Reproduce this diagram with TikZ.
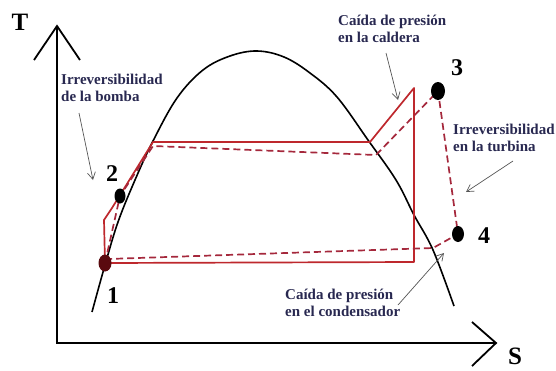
\documentclass[tikz,border=0pt]{standalone}
\usepackage{fontspec}
\setmainfont{Liberation Serif}
\usetikzlibrary{arrows.meta,shapes.geometric}
\definecolor{cycred}{RGB}{190,40,45}
\definecolor{dashred}{RGB}{165,40,60}
\definecolor{note}{RGB}{40,40,80}
\definecolor{pointer}{RGB}{85,85,85}
\definecolor{pointone}{RGB}{90,10,15}
\tikzset{
  axis/.style={line width=1.8pt, black},
  axhead/.style={line width=1.8pt, black},
  dome/.style={line width=1.6pt, black},
  real/.style={line width=1.7pt, cycred, line join=round},
  irrev/.style={line width=1.7pt, dashred, dash pattern=on 7pt off 4pt},
  pt/.style={fill=black, ellipse, inner sep=0pt},
  numlabel/.style={font=\fontsize{24}{26}\selectfont\bfseries, inner sep=0pt},
  axlabel/.style={font=\fontsize{25}{27}\selectfont\bfseries, inner sep=0pt},
  notetext/.style={font=\fontsize{15}{16.5}\selectfont\bfseries, text=note, align=left, inner sep=0pt, anchor=north west},
  pointerarrow/.style={line width=0.7pt, pointer, -{Straight Barb[length=7pt,width=8pt]}}
}
\begin{document}
\begin{tikzpicture}[x=1pt,y=-1pt]
\useasboundingbox (0,0) rectangle (556,370);
% axes
\coordinate (origin) at (57,343);
\coordinate (ttip) at (57,26);
\coordinate (stip) at (496,343);
\coordinate (tl) at (34,60);
\coordinate (tr) at (80,60);
\coordinate (su) at (472,322);
\coordinate (sd) at (472,366);
\draw[axis] (ttip) -- (origin) -- (stip);
\draw[axhead] (tl) -- (ttip) -- (tr);
\draw[axhead] (su) -- (stip) -- (sd);
\node[axlabel] (T) at (20,22) {T};
\node[axlabel] (S) at (515,356) {S};
% dome
\draw[dome] plot[smooth, tension=0.6] coordinates {(92,312) (105,265) (118,222) (135,180) (153,141) (177,98) (203,70) (230,56) (257,51) (284,57) (310,73) (337,97) (368,140) (396,180) (414,215) (433,250) (454,306)};
% cycle points
\coordinate (p1) at (105,263);
\coordinate (p1a) at (104,220);
\coordinate (p1b) at (112,208);
\coordinate (p2c) at (120,196);
\coordinate (pa) at (153,142);
\coordinate (pad) at (153,146);
\coordinate (pb) at (370,142);
\coordinate (pbd) at (376,155);
\coordinate (p3s) at (414,88);
\coordinate (p3c) at (438,91);
\coordinate (p4c) at (458,234);
\coordinate (p4s) at (414,262);
\coordinate (kd) at (433,248);
\coordinate (p1d) at (108,259);
% solid cycle
\draw[real] (p1) -- (p1a) -- (p1b) -- (pa) -- (pb) -- (p3s) -- (p4s) -- (p1);
% dashed cycle
\draw[irrev] (p1) -- (p2c) -- (pad) -- (pbd) -- (p3c) -- (p4c) -- (kd) -- (p1d);
% state points
\node[pt, minimum width=13pt, minimum height=17pt, fill=pointone] (n1) at (p1) {};
\node[pt, minimum width=11pt, minimum height=15pt] (n2) at (p2c) {};
\node[pt, minimum width=14pt, minimum height=18pt] (n3) at (p3c) {};
\node[pt, minimum width=12pt, minimum height=16pt] (n4) at (p4c) {};
\node[numlabel] (l1) at (113,296) {1};
\node[numlabel] (l2) at (112,174) {2};
\node[numlabel] (l3) at (457,68) {3};
\node[numlabel] (l4) at (484,236) {4};
% notes
\node[notetext] (nb) at (61,74) {Irreversibilidad\\de la bomba};
\node[notetext] (nc) at (338,15) {Caída de presión\\en la caldera};
\node[notetext] (nt) at (453,124) {Irreversibilidad\\en la turbina};
\node[notetext] (nk) at (285,289) {Caída de presión\\en el condensador};
\coordinate (ab1) at (79,113);
\coordinate (ab2) at (93,180);
\coordinate (ac1) at (386,53);
\coordinate (ac2) at (398,100);
\coordinate (at1) at (513,161);
\coordinate (at2) at (466,192);
\coordinate (ak1) at (398,305);
\coordinate (ak2) at (444,253);
\draw[pointerarrow] (ab1) -- (ab2);
\draw[pointerarrow] (ac1) -- (ac2);
\draw[pointerarrow] (at1) -- (at2);
\draw[pointerarrow] (ak1) -- (ak2);
\end{tikzpicture}
\end{document}
